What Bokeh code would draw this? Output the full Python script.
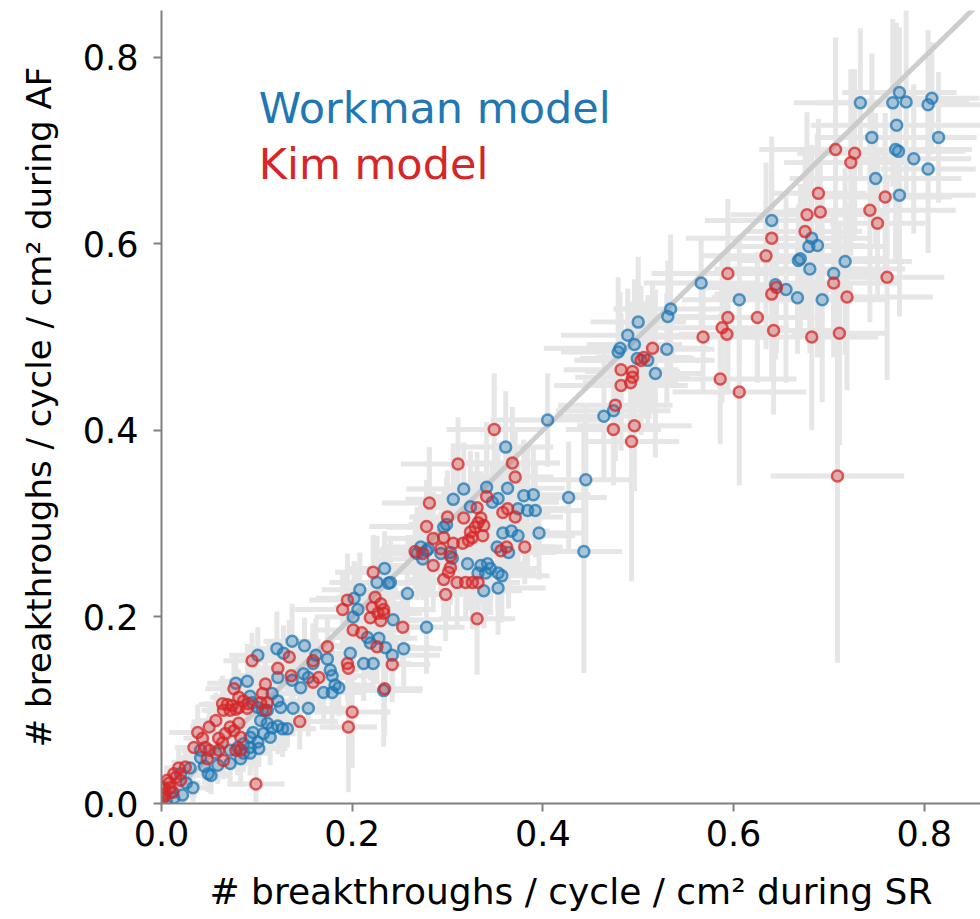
import numpy as np
from bokeh.plotting import figure
from bokeh.models import Range1d, FixedTicker, Label
from bokeh.embed import file_html
from bokeh.resources import INLINE

# ---------------- data ----------------
tick_values = [0.0, 0.2, 0.4, 0.6, 0.8]
tick_labels = ["0.0", "0.2", "0.4", "0.6", "0.8"]
series_names = ["Workman model", "Kim model"]
series_colors = ["#1f77b4", "#d62728"]

wm_x = [0.733, 0.774, 0.767, 0.781, 0.808, 0.804, 0.771, 0.745, 0.815, 0.770,
        0.773, 0.789, 0.804, 0.749, 0.774, 0.640, 0.682, 0.679, 0.688, 0.670,
        0.668, 0.717, 0.680, 0.705, 0.566, 0.644, 0.655, 0.606, 0.667, 0.693,
        0.500, 0.534, 0.531, 0.489, 0.496, 0.481, 0.479, 0.530, 0.499, 0.510,
        0.518, 0.474, 0.464, 0.405, 0.445, 0.427, 0.443,
        0.361, 0.317, 0.306, 0.341, 0.363, 0.353, 0.347, 0.380, 0.390, 0.324,
        0.374, 0.384, 0.392, 0.299, 0.296, 0.358, 0.367, 0.374, 0.396, 0.272,
        0.278, 0.352, 0.364, 0.321, 0.335, 0.342, 0.274, 0.268, 0.280, 0.293,
        0.303, 0.305, 0.345, 0.332, 0.340, 0.353, 0.357, 0.338, 0.353,
        0.234, 0.226, 0.238, 0.240, 0.208, 0.258, 0.202, 0.206, 0.201, 0.243,
        0.278, 0.216, 0.219, 0.228, 0.235, 0.254, 0.198, 0.212, 0.222, 0.242,
        0.233,
        0.137, 0.150, 0.121, 0.128, 0.101, 0.162, 0.174, 0.159, 0.177, 0.149,
        0.122, 0.137, 0.154, 0.146, 0.170, 0.179, 0.182, 0.186, 0.179, 0.138,
        0.154, 0.078, 0.090, 0.122, 0.125, 0.116, 0.111, 0.093, 0.095, 0.101,
        0.106, 0.104, 0.111, 0.116, 0.122, 0.127, 0.132, 0.096, 0.107, 0.093,
        0.114, 0.101, 0.093, 0.102, 0.086, 0.080, 0.072, 0.086, 0.083, 0.093,
        0.041, 0.049, 0.030, 0.020, 0.033, 0.022, 0.013, 0.059, 0.072, 0.041,
        0.057, 0.005, 0.010, 0.026, 0.045, 0.052]
wm_y = [0.751, 0.762, 0.751, 0.752, 0.756, 0.749, 0.727, 0.714, 0.714, 0.701,
        0.699, 0.691, 0.680, 0.670, 0.652, 0.625, 0.606, 0.597, 0.598, 0.584,
        0.582, 0.581, 0.573, 0.568, 0.558, 0.556, 0.551, 0.540, 0.542, 0.540,
        0.516, 0.530, 0.522, 0.502, 0.492, 0.488, 0.484, 0.487, 0.477, 0.475,
        0.461, 0.421, 0.415, 0.411, 0.347, 0.328, 0.270,
        0.382, 0.337, 0.326, 0.339, 0.338, 0.327, 0.323, 0.330, 0.331, 0.318,
        0.316, 0.314, 0.314, 0.299, 0.296, 0.290, 0.292, 0.287, 0.290, 0.275,
        0.271, 0.275, 0.269, 0.257, 0.255, 0.257, 0.262, 0.268, 0.273, 0.268,
        0.269, 0.263, 0.252, 0.247, 0.247, 0.247, 0.244, 0.228, 0.231,
        0.252, 0.237, 0.236, 0.237, 0.229, 0.225, 0.220, 0.208, 0.200, 0.197,
        0.189, 0.178, 0.172, 0.177, 0.167, 0.166, 0.161, 0.150, 0.150, 0.159,
        0.121,
        0.174, 0.169, 0.166, 0.161, 0.159, 0.159, 0.155, 0.150, 0.143, 0.139,
        0.135, 0.132, 0.135, 0.124, 0.119, 0.119, 0.127, 0.124, 0.137, 0.102,
        0.102, 0.129, 0.131, 0.110, 0.103, 0.118, 0.100, 0.115, 0.108, 0.103,
        0.100, 0.089, 0.086, 0.081, 0.083, 0.080, 0.080, 0.076, 0.075, 0.071,
        0.071, 0.066, 0.060, 0.059, 0.064, 0.060, 0.057, 0.054, 0.048, 0.054,
        0.049, 0.032, 0.038, 0.032, 0.017, 0.009, 0.006, 0.041, 0.043, 0.057,
        0.054, 0.003, 0.012, 0.022, 0.040, 0.030]
wm_xerr = [.07, .06, .08, .05, .05, .07, .09, .06, .04, .08,
           .07, .06, .05, .09, .08, .07, .06, .08, .05, .09,
           .06, .07, .10, .05, .06, .08, .07, .06, .09, .07,
           .05, .06, .04, .07, .05, .08, .06, .05, .06, .07,
           .05, .06, .05, .06, .05, .04, .04,
           .05, .06, .05, .04, .06, .05, .07, .05, .06, .04,
           .05, .06, .05, .04, .06, .05, .04, .06, .05, .04,
           .05, .06, .05, .04, .05, .04, .05, .04, .05, .04,
           .05, .04, .05, .04, .05, .04, .05, .04, .05,
           .04, .05, .04, .03, .04, .05, .04, .03, .04, .05,
           .04, .04, .03, .04, .05, .04, .04, .03, .04, .05,
           .04,
           .03, .04, .03, .04, .03, .04, .03, .04, .03, .04,
           .03, .03, .04, .03, .04, .03, .04, .03, .04, .03,
           .04, .03, .03, .03, .03, .04, .03, .03, .03, .02,
           .03, .03, .02, .03, .03, .02, .03, .03, .02, .03,
           .02, .03, .02, .03, .02, .03, .02, .03, .02, .02,
           .02, .02, .02, .015, .02, .015, .01, .02, .03, .02,
           .02, .005, .01, .015, .02, .02]
wm_yerr = [.08, .07, .09, .10, .06, .08, .11, .09, .07, .12,
           .10, .08, .09, .07, .13, .09, .10, .07, .12, .08,
           .06, .10, .09, .07, .05, .08, .10, .07, .06, .11,
           .07, .08, .06, .05, .07, .06, .08, .06, .05, .07,
           .09, .06, .07, .05, .08, .06, .13,
           .06, .05, .06, .07, .05, .06, .04, .06, .05, .06,
           .05, .07, .05, .05, .04, .06, .05, .04, .05, .05,
           .04, .05, .06, .05, .04, .05, .04, .05, .05, .04,
           .05, .04, .05, .04, .05, .04, .05, .04, .05,
           .04, .05, .04, .05, .04, .05, .04, .05, .04, .04,
           .05, .04, .04, .03, .04, .04, .04, .04, .03, .04,
           .06,
           .04, .03, .04, .03, .03, .04, .03, .04, .03, .03,
           .04, .03, .04, .03, .03, .04, .03, .03, .04, .03,
           .03, .03, .04, .03, .03, .03, .03, .03, .03, .03,
           .02, .03, .03, .02, .03, .03, .02, .03, .02, .03,
           .03, .02, .03, .02, .02, .03, .02, .02, .03, .02,
           .02, .02, .02, .02, .015, .01, .01, .02, .02, .02,
           .02, .005, .01, .015, .02, .02]

kim_x = [0.707, 0.727, 0.723, 0.689, 0.677, 0.691, 0.759, 0.743, 0.751, 0.675,
         0.640, 0.634, 0.594, 0.761, 0.645, 0.640, 0.705, 0.719, 0.594, 0.625,
         0.588, 0.593, 0.642, 0.568, 0.682, 0.711, 0.515, 0.506, 0.503, 0.482,
         0.494, 0.494, 0.492, 0.482, 0.476, 0.586, 0.606, 0.474, 0.496, 0.493,
         0.709,
         0.349, 0.311, 0.368, 0.371, 0.281, 0.341, 0.331, 0.335, 0.332, 0.338,
         0.329, 0.358, 0.363, 0.371, 0.300, 0.317, 0.278, 0.324, 0.326, 0.337,
         0.285, 0.296, 0.306, 0.316, 0.322, 0.266, 0.274, 0.293, 0.303, 0.356,
         0.362, 0.381, 0.285, 0.303, 0.301, 0.296, 0.310, 0.319, 0.326, 0.332,
         0.298, 0.331,
         0.222, 0.195, 0.190, 0.224, 0.230, 0.221, 0.233, 0.227, 0.219, 0.230,
         0.233, 0.253, 0.201, 0.210, 0.226, 0.174, 0.195, 0.196, 0.242, 0.234,
         0.200, 0.196,
         0.095, 0.134, 0.122, 0.136, 0.159, 0.165, 0.159, 0.145, 0.076, 0.081,
         0.086, 0.091, 0.106, 0.109, 0.104, 0.111, 0.109, 0.064, 0.069, 0.074,
         0.081, 0.090, 0.072, 0.065, 0.078, 0.057, 0.050, 0.038, 0.043, 0.034,
         0.046, 0.050, 0.060, 0.064, 0.067, 0.072, 0.081, 0.076, 0.083, 0.060,
         0.065, 0.048, 0.078, 0.083, 0.018, 0.013, 0.006, 0.002, 0.009, 0.020,
         0.004, 0.001, 0.015, 0.025, 0.099, 0.003, 0.008, 0.012]
kim_y = [0.701, 0.697, 0.687, 0.654, 0.631, 0.634, 0.650, 0.636, 0.622, 0.613,
         0.606, 0.587, 0.568, 0.564, 0.553, 0.546, 0.558, 0.543, 0.521, 0.521,
         0.510, 0.503, 0.507, 0.500, 0.500, 0.504, 0.488, 0.478, 0.475, 0.465,
         0.463, 0.457, 0.451, 0.448, 0.427, 0.455, 0.441, 0.401, 0.405, 0.388,
         0.351,
         0.401, 0.364, 0.365, 0.350, 0.322, 0.329, 0.317, 0.306, 0.301, 0.298,
         0.296, 0.312, 0.316, 0.307, 0.307, 0.306, 0.297, 0.291, 0.285, 0.287,
         0.284, 0.285, 0.279, 0.279, 0.282, 0.270, 0.268, 0.273, 0.265, 0.271,
         0.275, 0.275, 0.255, 0.253, 0.248, 0.240, 0.237, 0.237, 0.237, 0.237,
         0.224, 0.198,
         0.248, 0.218, 0.208, 0.221, 0.214, 0.210, 0.208, 0.204, 0.199, 0.196,
         0.204, 0.189, 0.186, 0.183, 0.168, 0.168, 0.150, 0.145, 0.149, 0.123,
         0.098, 0.082,
         0.153, 0.157, 0.145, 0.137, 0.153, 0.135, 0.130, 0.088, 0.123, 0.114,
         0.110, 0.107, 0.118, 0.128, 0.108, 0.108, 0.100, 0.107, 0.106, 0.105,
         0.103, 0.102, 0.100, 0.100, 0.101, 0.089, 0.082, 0.076, 0.070, 0.060,
         0.060, 0.057, 0.070, 0.065, 0.075, 0.082, 0.086, 0.078, 0.071, 0.057,
         0.046, 0.048, 0.057, 0.057, 0.038, 0.032, 0.025, 0.017, 0.017, 0.025,
         0.011, 0.005, 0.028, 0.039, 0.021, 0.008, 0.022, 0.012]
kim_xerr = [.08, .06, .07, .05, .08, .06, .07, .09, .05, .06,
            .09, .07, .08, .06, .08, .06, .07, .09, .07, .06,
            .07, .05, .06, .08, .07, .05, .06, .05, .07, .06,
            .05, .06, .05, .07, .06, .08, .07, .05, .06, .05,
            .07,
            .05, .06, .05, .04, .05, .06, .05, .04, .05, .06,
            .04, .05, .06, .05, .04, .05, .06, .04, .05, .04,
            .05, .04, .05, .04, .05, .04, .05, .04, .05, .04,
            .05, .04, .05, .04, .05, .04, .05, .04, .05, .04,
            .05, .04,
            .04, .04, .05, .04, .03, .04, .05, .04, .03, .04,
            .04, .05, .04, .03, .04, .04, .04, .03, .04, .04,
            .04, .03,
            .03, .04, .03, .04, .03, .04, .03, .04, .03, .03,
            .03, .02, .03, .03, .03, .02, .03, .02, .03, .02,
            .03, .02, .03, .02, .03, .02, .02, .03, .02, .02,
            .03, .02, .02, .03, .02, .02, .03, .02, .02, .02,
            .02, .02, .02, .02, .015, .01, .01, .005, .01, .015,
            .005, .005, .01, .015, .03, .005, .005, .01]
kim_yerr = [.12, .09, .10, .08, .11, .07, .09, .12, .08, .09,
            .07, .10, .08, .11, .07, .09, .08, .10, .08, .07,
            .08, .06, .09, .06, .10, .12, .07, .06, .08, .06,
            .07, .05, .06, .07, .06, .07, .10, .06, .07, .15,
            .20,
            .06, .05, .06, .05, .06, .05, .06, .05, .04, .05,
            .06, .05, .04, .05, .05, .04, .05, .04, .05, .04,
            .05, .04, .05, .04, .05, .04, .05, .04, .05, .04,
            .05, .04, .05, .04, .05, .04, .05, .04, .05, .04,
            .05, .06,
            .04, .05, .04, .04, .05, .04, .04, .05, .04, .04,
            .03, .04, .04, .04, .04, .03, .04, .04, .04, .05,
            .06, .07,
            .03, .04, .03, .03, .04, .03, .03, .03, .03, .03,
            .03, .03, .03, .04, .03, .03, .03, .03, .02, .03,
            .02, .03, .02, .03, .02, .03, .02, .03, .02, .03,
            .02, .02, .02, .02, .03, .02, .03, .02, .02, .02,
            .02, .02, .02, .02, .02, .015, .015, .01, .01, .015,
            .01, .005, .015, .02, .02, .005, .01, .01]

diag = [0.0, 1.0]

assert len(wm_x) == len(wm_y) == len(wm_xerr) == len(wm_yerr)
assert len(kim_x) == len(kim_y) == len(kim_xerr) == len(kim_yerr)

# ---------------- figure ----------------
FONT = "DejaVu Sans"
p = figure(width=980, height=919, output_backend="svg", toolbar_location=None,
           x_range=Range1d(0, 0.859), y_range=Range1d(0, 0.850),
           min_border_left=161, min_border_bottom=116, min_border_top=10,
           min_border_right=0)
p.outline_line_color = None
p.xgrid.visible = False
p.ygrid.visible = False
p.background_fill_color = "white"
p.border_fill_color = "white"

series = [(wm_x, wm_y, wm_xerr, wm_yerr), (kim_x, kim_y, kim_xerr, kim_yerr)]

# error bars
for xs, ys, xe, ye in series:
    xa, ya, xea, yea = map(np.asarray, (xs, ys, xe, ye))
    p.segment(x0=xa - xea, y0=ya, x1=xa + xea, y1=ya,
              line_color="#e6e6e6", line_width=5, line_cap="butt")
    p.segment(x0=xa, y0=ya - yea, x1=xa, y1=ya + yea,
              line_color="#e6e6e6", line_width=5, line_cap="butt")

# identity line
p.line(diag, diag, line_color="#c8c8c8", line_width=5, line_alpha=0.9)

# points
for (xs, ys, xe, ye), col in zip(series, series_colors):
    p.scatter(xs, ys, size=11, fill_color=col, fill_alpha=0.3,
              line_color=col, line_alpha=0.75, line_width=2.5)

# legend texts
for name, col, ly in zip(series_names, series_colors, [0.745, 0.686]):
    p.add_layout(Label(x=0.102, y=ly, text=name, text_color=col,
                       text_font=FONT, text_font_size="43px",
                       text_baseline="alphabetic", text_align="left"))

# axes
for ax in (p.xaxis[0], p.yaxis[0]):
    ax.ticker = FixedTicker(ticks=tick_values)
    ax.major_label_overrides = {v: l for v, l in zip(tick_values, tick_labels)}
    ax.minor_tick_line_color = None
    ax.major_tick_in = 0
    ax.major_tick_out = 8
    ax.major_tick_line_color = "#808080"
    ax.major_tick_line_width = 2
    ax.axis_line_color = "#808080"
    ax.axis_line_width = 2
    ax.major_label_text_font = FONT
    ax.major_label_text_font_size = "35px"
    ax.major_label_text_color = "black"
    ax.axis_label_text_font = FONT
    ax.axis_label_text_font_style = "normal"
    ax.axis_label_text_color = "black"

p.xaxis.axis_label_text_font_size = "36px"
p.yaxis.axis_label_text_font_size = "34px"
p.xaxis.axis_label = "# breakthroughs / cycle / cm\u00b2 during SR"
p.yaxis.axis_label = "# breakthroughs / cycle / cm\u00b2 during AF"
p.xaxis.major_label_standoff = 8
p.xaxis.axis_label_standoff = 22
p.yaxis.major_label_standoff = 15
p.yaxis.axis_label_standoff = 21

open("out.html", "w").write(file_html(p, INLINE))
